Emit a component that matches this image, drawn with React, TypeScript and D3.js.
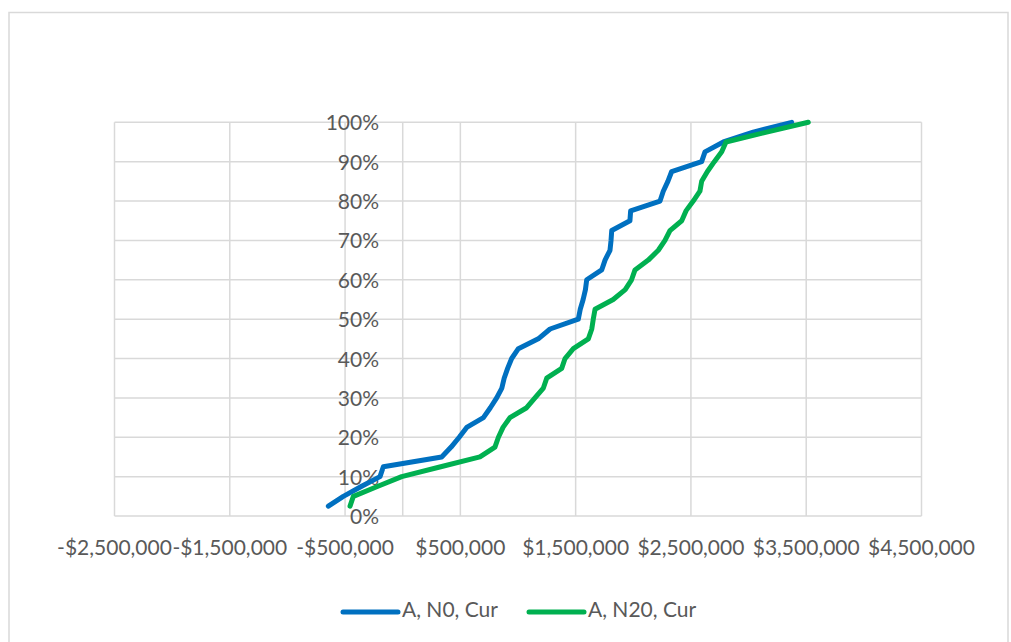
import React from "react";
import * as d3 from "d3";

const percentiles = [2.5, 5, 7.5, 10, 12.5, 15, 17.5, 20, 22.5, 25, 27.5, 30, 32.5, 35, 37.5, 40, 42.5, 45, 47.5, 50, 52.5, 55, 57.5, 60, 62.5, 65, 67.5, 70, 72.5, 75, 77.5, 80, 82.5, 85, 87.5, 90, 92.5, 95, 97.5, 100];

// values in $ millions
const seriesN0 = [-0.645, -0.515, -0.36, -0.197, -0.168, 0.338, 0.42, 0.49, 0.555, 0.7, 0.76, 0.815, 0.86, 0.88, 0.91, 0.945, 1.003, 1.176, 1.278, 1.523, 1.54, 1.565, 1.585, 1.596, 1.726, 1.755, 1.798, 1.807, 1.813, 1.971, 1.977, 2.232, 2.26, 2.3, 2.333, 2.593, 2.622, 2.781, 3.04, 3.374];
const seriesN20 = [-0.457, -0.428, -0.22, -0.009, 0.33, 0.67, 0.8, 0.83, 0.87, 0.93, 1.075, 1.147, 1.22, 1.249, 1.379, 1.408, 1.48, 1.61, 1.64, 1.653, 1.668, 1.826, 1.93, 1.985, 2.015, 2.13, 2.217, 2.275, 2.318, 2.42, 2.457, 2.52, 2.578, 2.593, 2.643, 2.703, 2.767, 2.804, 3.157, 3.518];

const xTicks = [-2.5, -1.5, -0.5, 0.5, 1.5, 2.5, 3.5, 4.5];
const yTicks = [0, 10, 20, 30, 40, 50, 60, 70, 80, 90, 100];
const seriesNames = ["A, N0, Cur", "A, N20, Cur"];
const colors = ["#0070C0", "#00B050"];

const W = 1011;
const H = 642;
const left = 114.5, right = 921.5, top = 122.3, bottom = 516;
const FONT = "Lato, 'Open Sans', sans-serif";
const FS = 21;

function fmtMoney(v: number) {
  const n = Math.round(v * 1e6);
  const s = d3.format(",")(Math.abs(n));
  return (n < 0 ? "-$" : "$") + s;
}

export default function App() {
  const x = d3.scaleLinear().domain([-2.5, 4.5]).range([left, right]);
  const y = d3.scaleLinear().domain([0, 100]).range([bottom, top]);
  const line = d3
    .line<[number, number]>()
    .x((d) => x(d[0]))
    .y((d) => y(d[1]));
  const data = [seriesN0, seriesN20].map((s) => s.map((v, i) => [v, percentiles[i]] as [number, number]));
  const x0 = x(0);
  return (
    <svg width={W} height={H} style={{ position: "absolute", left: 0, top: 0 }}>
      <rect x={0} y={0} width={W} height={H} fill="#fff" />
      <rect x={9} y={12.5} width={999} height={660} fill="none" stroke="#d9d9d9" strokeWidth={1.5} />
      {xTicks.map((t) => (
        <line key={"gx" + t} x1={x(t)} x2={x(t)} y1={top} y2={bottom} stroke="#d9d9d9" strokeWidth={1.5} />
      ))}
      {yTicks.map((t) => (
        <line key={"gy" + t} x1={left} x2={right} y1={y(t)} y2={y(t)} stroke="#d9d9d9" strokeWidth={1.5} />
      ))}
      <line x1={x0} x2={x0} y1={top} y2={bottom} stroke="#d9d9d9" strokeWidth={1.5} />
      {yTicks.map((t) => (
        <text key={"ly" + t} x={379} y={y(t) + 8} textAnchor="end" fontFamily={FONT} fontSize={FS} fill="#595959">
          {t + "%"}
        </text>
      ))}
      {xTicks.map((t) => (
        <text key={"lx" + t} x={x(t)} y={555} textAnchor="middle" fontFamily={FONT} fontSize={FS} fill="#595959">
          {fmtMoney(t)}
        </text>
      ))}
      {data.map((d, i) => (
        <path key={"s" + i} d={line(d) || ""} fill="none" stroke={colors[i]} strokeWidth={5} strokeLinejoin="round" strokeLinecap="round" />
      ))}
      {seriesNames.map((n, i) => {
        const lx = i === 0 ? 343 : 529;
        return (
          <g key={"lg" + i}>
            <line x1={lx} x2={lx + 55} y1={612} y2={612} stroke={colors[i]} strokeWidth={5} strokeLinecap="round" />
            <text x={lx + 59} y={617} fontFamily={FONT} fontSize={FS} fill="#595959">
              {n}
            </text>
          </g>
        );
      })}
    </svg>
  );
}
